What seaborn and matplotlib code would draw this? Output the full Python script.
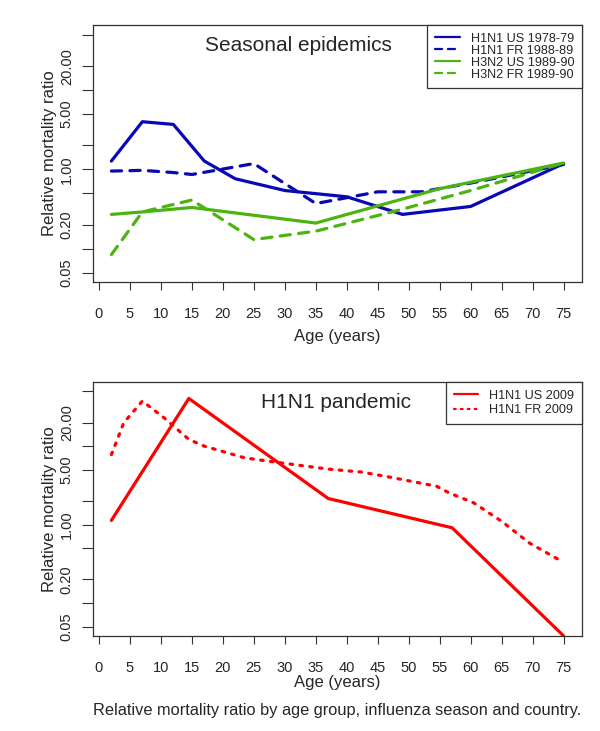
import numpy as np
import pandas as pd
import matplotlib
matplotlib.use("Agg")
import matplotlib.pyplot as plt
import seaborn as sns

# Relative mortality ratio by age
ages_h1n1_us_7879 = [2, 7, 12, 17, 22, 30, 40, 49, 60, 75]
rmr_h1n1_us_7879 = [1.27, 3.98, 3.68, 1.27, 0.76, 0.54, 0.45, 0.27, 0.34, 1.18]

ages_h1n1_fr_8889 = [2, 7, 12, 15, 25, 35, 45, 52, 60, 75]
rmr_h1n1_fr_8889 = [0.95, 0.97, 0.91, 0.86, 1.18, 0.37, 0.52, 0.52, 0.67, 1.15]

ages_h3n2_us_8990 = [2, 7, 15, 35, 55, 75]
rmr_h3n2_us_8990 = [0.27, 0.29, 0.33, 0.21, 0.57, 1.2]

ages_h3n2_fr_8990 = [2, 7, 15, 25, 35, 48, 60, 70, 75]
rmr_h3n2_fr_8990 = [0.084, 0.29, 0.41, 0.13, 0.166, 0.30, 0.54, 0.92, 1.2]

ages_h1n1_us_2009 = [2, 14.5, 37, 57, 75]
rmr_h1n1_us_2009 = [1.13, 40.6, 2.15, 0.91, 0.038]

ages_h1n1_fr_2009 = [2, 4, 7, 10.5, 14.5, 17, 23.5, 28.5, 37, 42.5, 47, 54.5, 56.5, 60.5, 65, 69.5, 75]
rmr_h1n1_fr_2009 = [7.8, 19.9, 37.6, 23, 12.2, 10.0, 7.1, 6.25, 5.1, 4.66, 4.02, 3.08, 2.54, 1.89, 1.1, 0.58, 0.33]

x_ticks = list(range(0, 80, 5))
y_ticks = [0.05, 0.1, 0.2, 0.5, 1, 2, 5, 10, 20, 50]
y_labels = ["0.05", "", "0.20", "", "1.00", "", "5.00", "", "20.00", ""]

BLUE = "#0808B4"
GREEN = "#4CB412"
RED = "#FF0000"
DASH = (0, (3.2, 2.6))
DOT = (0, (0.8, 2.3))

sns.set_style("ticks")
plt.rcParams["font.family"] = ["Liberation Sans", "DejaVu Sans"]

fig = plt.figure(figsize=(6, 7.31), dpi=100)
ax1 = fig.add_axes([0.1555, 0.6142, 0.814, 0.3516])
ax2 = fig.add_axes([0.1555, 0.130, 0.814, 0.3475])

top_series = [
    ("H1N1 US 1978-79", ages_h1n1_us_7879, rmr_h1n1_us_7879, BLUE, "-"),
    ("H1N1 FR 1988-89", ages_h1n1_fr_8889, rmr_h1n1_fr_8889, BLUE, DASH),
    ("H3N2 US 1989-90", ages_h3n2_us_8990, rmr_h3n2_us_8990, GREEN, "-"),
    ("H3N2 FR 1989-90", ages_h3n2_fr_8990, rmr_h3n2_fr_8990, GREEN, DASH),
]
bottom_series = [
    ("H1N1 US 2009", ages_h1n1_us_2009, rmr_h1n1_us_2009, RED, "-"),
    ("H1N1 FR 2009", ages_h1n1_fr_2009, rmr_h1n1_fr_2009, RED, DOT),
]


def draw_panel(ax, series):
    for name, ages, vals, col, ls in series:
        df = pd.DataFrame({"age": ages, "rmr": vals})
        sns.lineplot(data=df, x="age", y="rmr", ax=ax, color=col, linestyle=ls,
                     linewidth=2.3, label=name, estimator=None, sort=False,
                     solid_capstyle="round", solid_joinstyle="round",
                     dash_capstyle="round", legend=False)
    ax.set_yscale("log")
    lo, hi = np.log10(0.05), np.log10(50)
    pad = 0.04 * (hi - lo)
    ax.set_ylim(10 ** (lo - pad), 10 ** (hi + pad))
    ax.set_xlim(2 - 0.04 * 73, 75 + 0.04 * 73)
    ax.set_xticks(x_ticks)
    ax.set_xticklabels([str(t) for t in x_ticks], fontsize=10.5)
    ax.set_yticks(y_ticks)
    ax.set_yticklabels(y_labels)
    ax.minorticks_off()
    ax.tick_params(axis="x", length=6, width=0.8, pad=12, color="#333333")
    ax.tick_params(axis="y", length=8, width=0.8, pad=6, color="#333333")
    for lab in ax.get_yticklabels():
        lab.set_rotation(90)
        lab.set_va("center")
        lab.set_fontsize(10.5)
        lab.set_family(["Liberation Sans Narrow", "Liberation Sans", "DejaVu Sans"])
    for sp in ax.spines.values():
        sp.set_visible(True)
        sp.set_color("#333333")
        sp.set_linewidth(0.9)
    ax.set_ylabel("Relative mortality ratio", fontsize=12, labelpad=2)


draw_panel(ax1, top_series)
draw_panel(ax2, bottom_series)

ax1.set_xlabel("Age (years)", fontsize=12, labelpad=6)
ax2.set_xlabel("Age (years)", fontsize=12, labelpad=0)

ax1.text(0.421, 0.922, "Seasonal epidemics", transform=ax1.transAxes,
         ha="center", va="center", fontsize=15)
ax2.text(0.496, 0.921, "H1N1 pandemic", transform=ax2.transAxes,
         ha="center", va="center", fontsize=15)

leg1 = ax1.legend(loc="upper right", borderaxespad=0, fancybox=False,
                  framealpha=1, edgecolor="#333333", fontsize=9.1,
                  handlelength=2.0, handletextpad=0.85, labelspacing=0.0,
                  borderpad=0.6)
leg2 = ax2.legend(loc="upper right", borderaxespad=0, fancybox=False,
                  framealpha=1, edgecolor="#333333", fontsize=9.1,
                  handlelength=1.9, handletextpad=0.9, labelspacing=0.2,
                  borderpad=0.6)
for leg in (leg1, leg2):
    leg.get_frame().set_linewidth(0.9)
    for ln in leg.get_lines():
        ln.set_linewidth(1.6)

fig.text(0.5625, 0.0219, "Relative mortality ratio by age group, influenza season and country.",
         ha="center", va="baseline", fontsize=11.8)

fig.savefig("out.png", dpi=100)
